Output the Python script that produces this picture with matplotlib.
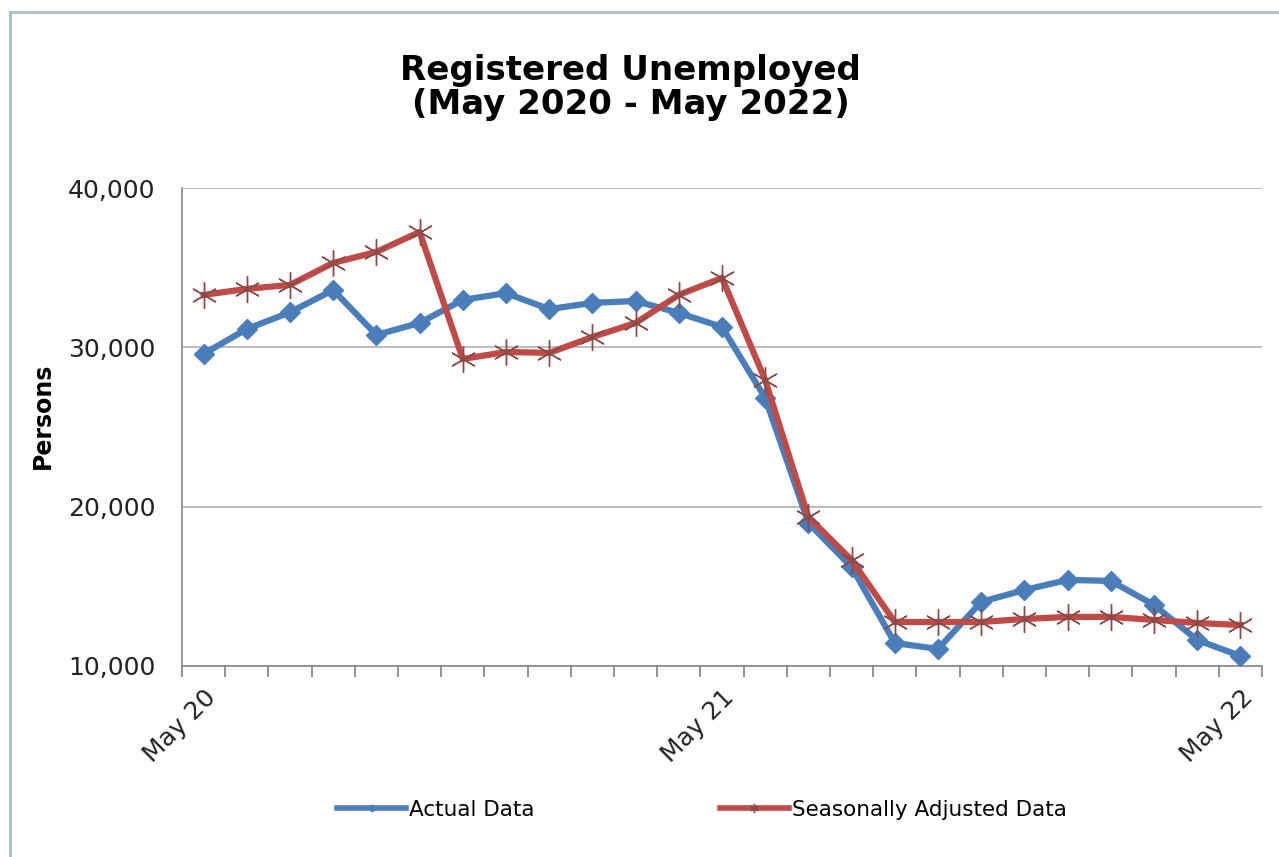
import matplotlib
matplotlib.use('Agg')
import matplotlib.pyplot as plt
from matplotlib.lines import Line2D
from matplotlib.ticker import FuncFormatter, MultipleLocator

# --- data (May 2020 .. May 2022, monthly)
months = ['May 20', 'Jun 20', 'Jul 20', 'Aug 20', 'Sep 20', 'Oct 20', 'Nov 20',
          'Dec 20', 'Jan 21', 'Feb 21', 'Mar 21', 'Apr 21', 'May 21', 'Jun 21',
          'Jul 21', 'Aug 21', 'Sep 21', 'Oct 21', 'Nov 21', 'Dec 21', 'Jan 22',
          'Feb 22', 'Mar 22', 'Apr 22', 'May 22']
actual = [29590, 31150, 32200, 33600, 30780, 31530, 32980, 33400, 32400, 32790,
          32910, 32160, 31280, 26820, 18980, 16210, 11440, 11070, 14020, 14770,
          15400, 15340, 13830, 11630, 10630]
seasonal = [33290, 33670, 33920, 35300, 35990, 37240, 29270, 29710, 29650, 30650,
            31530, 33290, 34360, 27950, 19350, 16650, 12760, 12760, 12760, 12950,
            13080, 13080, 12890, 12700, 12570]
shown_labels = {0: 'May 20', 12: 'May 21', 24: 'May 22'}

blue = '#4a7ebb'
red = '#be4b48'

# ---
fig = plt.figure(figsize=(12.79, 8.57), dpi=100)
ax = fig.add_axes([0.1423, 0.2229, 0.8444, 0.5577])

x = list(range(len(months)))
ax.plot(x, actual, color=blue, lw=4.5, marker='D', ms=10,
        mec=blue, mfc=blue, label='Actual Data', zorder=3)
ax.plot(x, seasonal, color=red, lw=4.5, marker=(6, 2, 0), ms=19,
        mec='#8a4a48', mew=1.0, label='Seasonally Adjusted Data', zorder=4)

ax.set_xlim(-0.5, len(months) - 0.5)
ax.set_ylim(10000, 40000)
ax.yaxis.set_major_locator(MultipleLocator(10000))
ax.yaxis.set_major_formatter(FuncFormatter(lambda v, p: f'{int(v):,}'))
ax.grid(axis='y', color='#b0b0b0', lw=1.2)
ax.set_axisbelow(True)

# category boundaries as ticks, labels only every 12 months
ax.set_xticks([i - 0.5 for i in range(len(months) + 1)])
ax.set_xticklabels([])
ax.set_xticks(list(shown_labels.keys()), minor=True)
ax.set_xticklabels(list(shown_labels.values()), minor=True, rotation=45,
                   ha='right', rotation_mode='anchor', fontsize=18,
                   family='DejaVu Sans', color='#222222')
ax.tick_params(axis='x', which='major', length=8, width=1.2, color='#808080')
ax.tick_params(axis='x', which='minor', length=0, pad=14)
ax.tick_params(axis='y', length=0, pad=19, labelsize=18, labelcolor='#222222')

for s in ['top', 'right']:
    ax.spines[s].set_visible(False)
for s in ['left', 'bottom']:
    ax.spines[s].set_color('#888888')
    ax.spines[s].set_linewidth(1.2)

ax.set_ylabel('Persons', fontsize=17, fontweight='bold')
ax.yaxis.set_label_coords(-0.1176, 0.523)

fig.text(0.493, 0.898, 'Registered Unemployed\n(May 2020 - May 2022)',
         ha='center', va='center', fontsize=24.5, fontweight='bold',
         linespacing=1.05)

leg = fig.legend(loc='center', bbox_to_anchor=(0.549, 0.055), ncol=2,
                 frameon=False, fontsize=15.5, handlelength=3.2,
                 columnspacing=8.6, markerscale=0.35, handletextpad=0.15)
for h in leg.legend_handles:
    h.set_linewidth(4)

# outer chart border
fig.add_artist(Line2D([0.008, 0.008], [0.0, 0.986], color='#a9bccb', lw=2))
fig.add_artist(Line2D([0.008, 1.0], [0.986, 0.986], color='#a9bccb', lw=2))

plt.savefig('out.png', dpi=100)
